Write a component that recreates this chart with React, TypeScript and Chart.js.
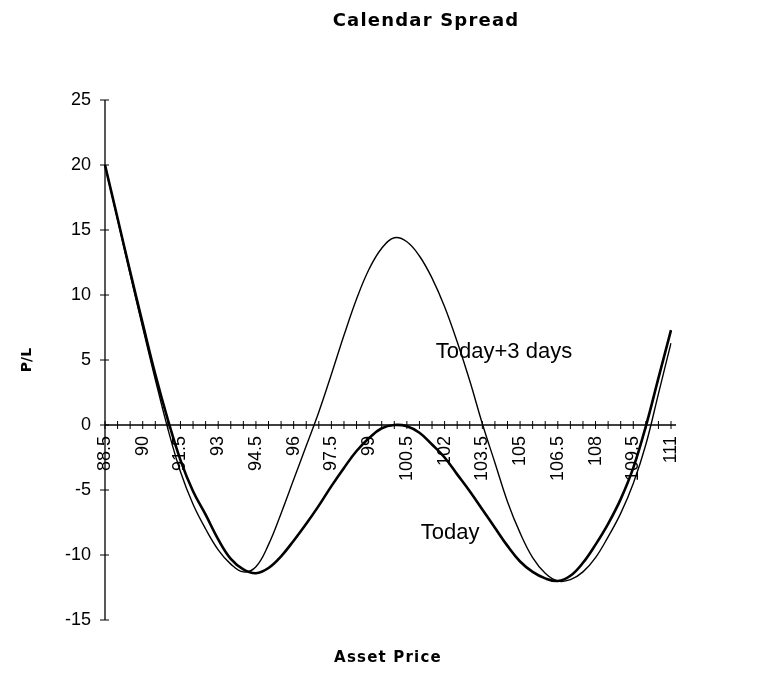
import React, { useEffect, useRef } from 'react';
import { Chart, registerables } from 'chart.js';

Chart.register(...registerables);

const chartTitle = 'Calendar Spread';
const xAxisTitle = 'Asset Price';
const yAxisTitle = 'P/L';

const prices = [
  '88.5', '89', '89.5', '90', '90.5', '91', '91.5', '92', '92.5', '93',
  '93.5', '94', '94.5', '95', '95.5', '96', '96.5', '97', '97.5', '98',
  '98.5', '99', '99.5', '100', '100.5', '101', '101.5', '102', '102.5', '103',
  '103.5', '104', '104.5', '105', '105.5', '106', '106.5', '107', '107.5', '108',
  '108.5', '109', '109.5', '110', '110.5', '111',
];

const today = [
  20, 15.9, 11.8, 7.8, 3.9, 0.4, -2.7, -5.1, -6.9, -8.8,
  -10.3, -11.1, -11.4, -11.0, -10.1, -8.9, -7.6, -6.2, -4.7, -3.3,
  -2.0, -1.0, -0.25, 0, -0.1, -0.6, -1.5, -2.5, -3.8, -5.1,
  -6.5, -7.9, -9.3, -10.5, -11.3, -11.8, -12.0, -11.6, -10.6, -9.2,
  -7.6, -5.7, -3.3, -0.1, 3.6, 7.3,
];

const todayPlus3 = [
  20, 15.8, 11.6, 7.5, 3.5, -0.3, -3.6, -6.1, -8.0, -9.6,
  -10.7, -11.3, -10.9, -9.2, -6.8, -4.2, -1.6, 1.0, 3.9, 6.9,
  9.7, 12.0, 13.6, 14.4, 14.1, 13.0, 11.3, 9.1, 6.4, 3.4,
  0.1, -2.9, -5.9, -8.3, -10.2, -11.4, -12.0, -11.9, -11.3, -10.2,
  -8.6, -6.8, -4.5, -1.5, 2.4, 6.3,
];

const yMin = -15;
const yMax = 25;
const yStep = 5;
const labelEvery = 3;

const seriesLabels = ['Today', 'Today+3 days'];
// text annotations: anchored at (price, P/L value)
const annotationTexts = ['Today+3 days', 'Today'];
const annotationPrices = [101.65, 101.05];
const annotationValues = [5.6, -8.3];

const decorPlugin = {
  id: 'decor',
  afterDraw(chart: any) {
    const { ctx, chartArea } = chart;
    const x = chart.scales.x;
    const y = chart.scales.y;
    ctx.save();
    ctx.strokeStyle = '#000';
    ctx.lineWidth = 1.3;
    const y0 = y.getPixelForValue(0);
    const xLeft = chartArea.left;
    // axis lines
    ctx.beginPath();
    ctx.moveTo(xLeft, y.getPixelForValue(yMax));
    ctx.lineTo(xLeft, y.getPixelForValue(yMin));
    ctx.moveTo(xLeft, y0);
    ctx.lineTo(chartArea.right + 5, y0);
    ctx.stroke();
    // crossing tick marks
    ctx.lineWidth = 1;
    ctx.beginPath();
    x.ticks.forEach((_: any, i: number) => {
      const px = x.getPixelForTick(i);
      ctx.moveTo(px, y0 - 4);
      ctx.lineTo(px, y0 + 4);
    });
    y.ticks.forEach((_: any, i: number) => {
      const py = y.getPixelForTick(i);
      ctx.moveTo(xLeft - 5, py);
      ctx.lineTo(xLeft + 4, py);
    });
    ctx.stroke();

    ctx.fillStyle = '#000';
    // chart title
    ctx.font = 'bold 18px "DejaVu Sans"';
    (ctx as any).letterSpacing = '1.2px';
    ctx.textAlign = 'center';
    ctx.textBaseline = 'middle';
    ctx.fillText(chartTitle, 418, 13);
    // x axis title
    ctx.font = 'bold 15px "DejaVu Sans"';
    (ctx as any).letterSpacing = '1.2px';
    ctx.fillText(xAxisTitle, (chartArea.left + chartArea.right) / 2, 650);
    (ctx as any).letterSpacing = '0px';

    // curve annotations
    ctx.font = '22px "Liberation Sans", Arial, sans-serif';
    ctx.textAlign = 'left';
    const p0 = parseFloat(prices[0]);
    const dp = parseFloat(prices[1]) - p0;
    annotationTexts.forEach((t, i) => {
      const px = x.getPixelForValue((annotationPrices[i] - p0) / dp);
      const py = y.getPixelForValue(annotationValues[i]);
      ctx.fillText(t, px, py);
    });
    ctx.restore();
  },
};

export default function App() {
  const canvasRef = useRef<HTMLCanvasElement | null>(null);

  useEffect(() => {
    if (!canvasRef.current) return;
    const chart = new Chart(canvasRef.current, {
      type: 'line',
      data: {
        labels: prices,
        datasets: [
          {
            label: seriesLabels[0],
            data: today,
            borderColor: '#000',
            borderWidth: 2.6,
            pointRadius: 0,
            tension: 0.4,
            fill: false,
          },
          {
            label: seriesLabels[1],
            data: todayPlus3,
            borderColor: '#000',
            borderWidth: 1.4,
            pointRadius: 0,
            tension: 0.4,
            fill: false,
          },
        ],
      },
      options: {
        animation: false,
        responsive: false,
        maintainAspectRatio: false,
        layout: { padding: { top: 92, right: 89, bottom: 47, left: 0 } },
        plugins: {
          legend: { display: false },
          title: { display: false },
          tooltip: { enabled: false },
        },
        scales: {
          x: {
            type: 'category',
            position: { y: 0 } as any,
            offset: false,
            grid: { display: false, drawTicks: false },
            border: { display: false },
            ticks: {
              autoSkip: false,
              maxRotation: 90,
              minRotation: 90,
              padding: 11,
              color: '#000',
              font: { family: '"Liberation Sans", Arial, sans-serif', size: 18 },
              callback: (_v: any, i: number) => (i % labelEvery === 0 ? prices[i] : ''),
            },
          },
          y: {
            type: 'linear',
            position: 'left',
            min: yMin,
            max: yMax,
            grid: { display: false, drawTicks: false },
            border: { display: false },
            afterFit: (scale: any) => {
              scale.width = 97;
            },
            ticks: {
              stepSize: yStep,
              padding: 14,
              color: '#000',
              font: { family: '"Liberation Sans", Arial, sans-serif', size: 18 },
            },
            title: {
              display: true,
              text: yAxisTitle,
              color: '#000',
              font: { family: '"DejaVu Sans"', size: 14, weight: 'bold' },
              padding: { top: 11, bottom: 0 },
            },
          },
        },
      },
      plugins: [decorPlugin],
    });
    return () => chart.destroy();
  }, []);

  return (
    <div style={{ width: 752, height: 659 }}>
      <canvas ref={canvasRef} width={752} height={659} style={{ display: 'block' }} />
    </div>
  );
}
